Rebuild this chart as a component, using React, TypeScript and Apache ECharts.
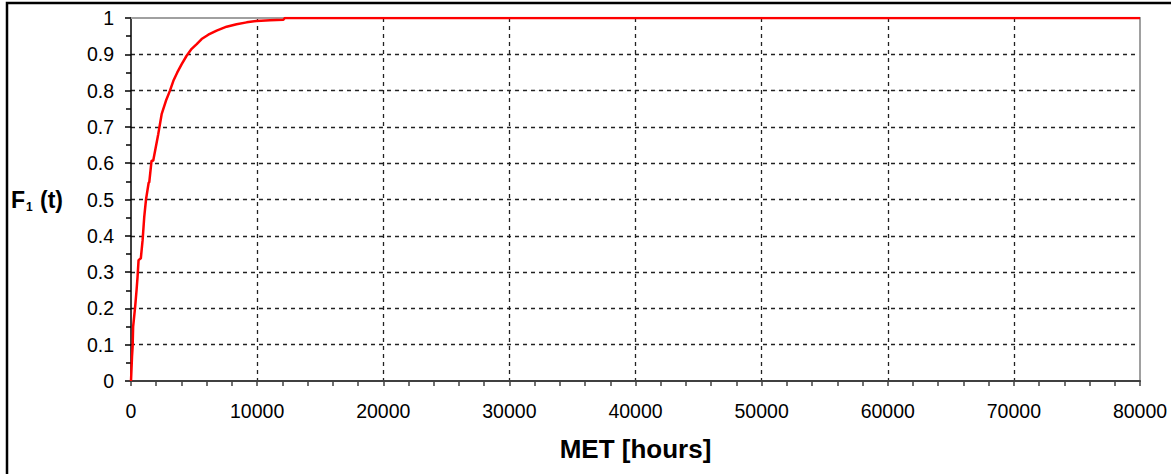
import React, { useEffect, useRef } from "react";
import * as echarts from "echarts";

const hours = [0, 80, 130, 170, 330, 440, 520, 600, 780, 920, 1050, 1190, 1400, 1450, 1630, 1760, 2160, 2430, 2770, 3090, 3360, 3670, 4020, 4410, 4810, 5210, 5600, 6130, 6790, 7580, 8370, 9170, 9960, 11020, 12080, 12200, 80000];
const fValues = [0, 0.067, 0.095, 0.15, 0.205, 0.25, 0.287, 0.333, 0.338, 0.388, 0.452, 0.5, 0.546, 0.548, 0.607, 0.607, 0.68, 0.735, 0.772, 0.8, 0.827, 0.85, 0.873, 0.896, 0.915, 0.928, 0.942, 0.954, 0.965, 0.976, 0.983, 0.988, 0.992, 0.994, 0.995, 1.0, 1.0];

const xTitle = "MET [hours]";
const FONT = "'Liberation Sans', Arial, sans-serif";

export default function App() {
  const ref = useRef<HTMLDivElement>(null);
  useEffect(() => {
    if (!ref.current) return;
    const chart = echarts.init(ref.current, undefined, { renderer: "svg" });
    const data = hours.map((h, i) => [h, fValues[i]]);
    chart.setOption({
      animation: false,
      backgroundColor: "#ffffff",
      textStyle: { fontFamily: FONT },
      grid: { left: 131, top: 18, right: 31, bottom: 93, containLabel: false },
      graphic: [
        {
          type: "rect",
          shape: { x: 7, y: 3, width: 1200, height: 520 },
          style: { fill: "none", stroke: "#000", lineWidth: 2.5 },
          silent: true,
        },
      ],
      xAxis: [
        {
          type: "value",
          position: "bottom",
          min: 0,
          max: 80000,
          interval: 10000,
          name: xTitle,
          nameLocation: "middle",
          nameGap: 55,
          nameTextStyle: { fontSize: 26, fontWeight: "bold", color: "#000", fontFamily: FONT },
          axisLine: { show: true, onZero: false, lineStyle: { color: "#404040", width: 2 } },
          axisTick: { show: true, length: 5, lineStyle: { color: "#404040", width: 1.5 } },
          minorTick: { show: true, splitNumber: 5, length: 5, lineStyle: { color: "#404040", width: 1.5 } },
          axisLabel: { fontSize: 19.5, color: "#000", margin: 20, fontFamily: FONT, formatter: (v: number) => String(v) },
          splitLine: { show: true, showMinLine: false, showMaxLine: false, lineStyle: { color: "#222", type: [4, 4], width: 1.3 } },
        },
        {
          type: "value",
          position: "top",
          min: 0,
          max: 80000,
          axisLine: { show: true, onZero: false, lineStyle: { color: "#a0a0a0", width: 2 } },
          axisTick: { show: false },
          axisLabel: { show: false },
          splitLine: { show: false },
        },
      ],
      yAxis: [
        {
          type: "value",
          position: "left",
          min: 0,
          max: 1,
          interval: 0.1,
          name: "{a|F}{b|1}{a| (t)}",
          nameLocation: "middle",
          nameRotate: 0,
          nameGap: 68,
          nameTextStyle: {
            color: "#000",
            rich: {
              a: { fontSize: 23, fontWeight: "bold", fontFamily: FONT, color: "#000" },
              b: { fontSize: 12, fontWeight: "bold", fontFamily: FONT, color: "#000", verticalAlign: "bottom", padding: [14, 1, 0, 1] },
            },
          },
          axisLine: { show: true, onZero: false, lineStyle: { color: "#000", width: 1.5 } },
          axisTick: { show: true, length: 6, lineStyle: { color: "#000", width: 1.5 } },
          minorTick: { show: true, splitNumber: 2, length: 5, lineStyle: { color: "#000", width: 1.5 } },
          axisLabel: { fontSize: 19.5, color: "#000", margin: 17, fontFamily: FONT },
          splitLine: { show: true, showMinLine: false, showMaxLine: false, lineStyle: { color: "#222", type: [4, 4], width: 1.3 } },
        },
        {
          type: "value",
          position: "right",
          min: 0,
          max: 1,
          axisLine: { show: true, onZero: false, lineStyle: { color: "#a0a0a0", width: 2 } },
          axisTick: { show: false },
          axisLabel: { show: false },
          splitLine: { show: false },
        },
      ],
      series: [
        {
          type: "line",
          data,
          showSymbol: false,
          symbol: "none",
          lineStyle: { color: "#ff0000", width: 2.5 },
          z: 5,
        },
      ],
    });
    return () => chart.dispose();
  }, []);
  return (
    <div
      ref={ref}
      style={{ position: "fixed", left: 0, top: 0, width: 1171, height: 474, background: "#fff" }}
    />
  );
}
